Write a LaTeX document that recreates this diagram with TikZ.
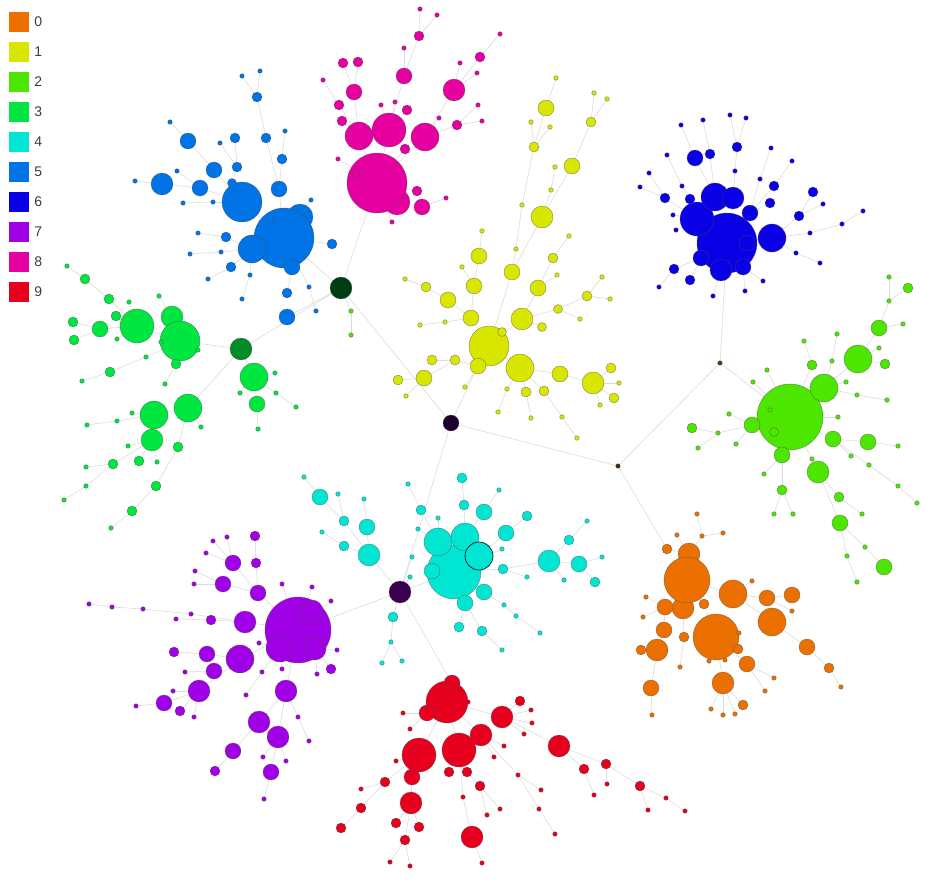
\documentclass[tikz,border=0pt]{standalone}
\usepackage{fontspec}
\setmainfont{Liberation Sans}
\usetikzlibrary{positioning, backgrounds}
\definecolor{c0}{RGB}{236,112,0}
\definecolor{c1}{RGB}{217,230,0}
\definecolor{c2}{RGB}{77,230,0}
\definecolor{c3}{RGB}{0,230,64}
\definecolor{c4}{RGB}{0,230,210}
\definecolor{c5}{RGB}{0,115,230}
\definecolor{c6}{RGB}{10,0,230}
\definecolor{c7}{RGB}{160,0,230}
\definecolor{c8}{RGB}{230,0,160}
\definecolor{c9}{RGB}{230,0,30}
\definecolor{labgray}{RGB}{60,60,60}

% name/x/y/radius/parent
\newcommand\orangenodes{o0/667/549/5/hD, o1/689/554/11/o0, o3/683/608/11/o2,
  o2/687/580/23/o1, o4/665/607/8/o2, o5/704/604/5/o2, o6/733/594/14/o2,
  o7/752/581/2.3/o6, o8/767/598/8/o6, o9/792/595/8/o8, o10/792/611/2.3/o8,
  o11/772/622/14/o6, o12/807/647/8/o11, o13/829/668/5/o12, o14/841/687/2.3/o13,
  o15/716/637/23/o5, o16/739/633/2.3/o15, o17/738/649/5/o15, o18/709/661/2.3/o15,
  o19/725/660/2.3/o15, o20/747/664/8/o15, o21/774/678/2.3/o20, o22/765/691/2.3/o20,
  o23/723/683/11/o15, o24/711/709/2.3/o23, o25/723/715/2.3/o23, o26/735/714/2.3/o23,
  o27/743/705/5/o23, o28/664/630/8/o4, o29/657/650/11/o28, o30/641/650/5/o29,
  o31/651/688/8/o29, o32/652/715/2.3/o31, o33/684/637/5/o3, o34/680/667/2.3/o33,
  o35/646/597/2.3/o4, o36/643/617/2.3/o4, o37/702/536/2.3/o1, o38/697/514/2.3/o37,
  o39/723/533/2.3/o37, o40/677/535/2.3/o1}
\newcommand\yellownodes{y0/489/346/20/y1, y1/478/366/8/hB, y2/502/332/4.5/y0,
  y3/520/368/14/y0, y4/522/319/11/y0, y5/542/327/4.5/y4, y6/558/309/4.5/y4,
  y7/587/296/5/y6, y8/602/277/2.3/y7, y9/610/299/2.3/y7, y10/580/319/2.3/y6,
  y11/538/288/8/y4, y12/557/275/2.3/y11, y13/553/258/5/y11, y14/569/236/2.3/y13,
  y15/471/318/8/y0, y16/474/286/8/y15, y17/462/267/2.3/y16, y18/479/256/8/y16,
  y19/482/231/2.3/y18, y20/448/300/8/y15, y21/426/287/5/y20, y22/405/279/2.3/y21,
  y23/445/322/2.3/y15, y24/420/325/2.3/y23, y25/512/272/8/y0, y26/516/249/2.3/y25,
  y27/542/217/11/y25, y28/522/205/2.3/y26, y29/551/190/2.3/y27, y30/555/167/2.3/y29,
  y31/572/166/8/y27, y32/591/122/5/y31, y33/594/93/2.3/y32, y34/607/99/2.3/y32,
  y35/534/147/5/y28, y36/531/122/2.3/y35, y37/550/127/2.3/y35, y38/546/108/8/y35,
  y39/556/78/2.3/y38, y40/455/360/5/y1, y41/432/360/5/y40, y42/424/378/8/y40,
  y43/398/380/5/y42, y44/406/396/2.3/y42, y45/465/387/2.3/y1, y46/507/389/2.3/y3,
  y47/498/412/2.3/y46, y48/526/392/5/y3, y49/531/418/2.3/y48, y50/544/391/5/y3,
  y51/562/417/2.3/y50, y52/577/438/2.3/y51, y53/560/374/8/y3, y54/593/383/11/y53,
  y55/611/368/5/y54, y56/619/383/2.3/y54, y57/614/398/5/y54, y58/600/405/2.3/y54}
\newcommand\limenodes{g0/790/417/33/hE, g1/824/388/14/g0, g2/858/359/14/g1,
  g3/879/328/8/g2, g4/889/301/2.3/g3, g5/889/277/2.3/g4, g6/908/288/5/g4,
  g7/903/324/2.3/g3, g8/879/348/2.3/g2, g9/885/364/5/g2, g10/812/365/5/g0,
  g11/804/341/2.3/g10, g12/832/361/2.3/g1, g13/837/334/2.3/g12, g14/846/382/2.3/g1,
  g15/857/395/2.3/g1, g16/887/400/2.3/g15, g17/767/370/2.3/g0, g18/753/382/2.3/g0,
  g19/838/417/2.3/g0, g20/770/410/2.3/g0, g21/774/432/4.5/g0, g22/752/425/8/g0,
  g23/729/414/2.3/g22, g24/736/444/2.3/g22, g25/718/433/2.3/g22, g26/692/428/5/g25,
  g27/698/448/2.3/g25, g28/782/455/8/g0, g29/764/474/2.3/g28, g30/782/490/5/g28,
  g31/774/514/2.3/g30, g32/793/514/2.3/g30, g33/833/439/8/g0, g34/868/442/8/g33,
  g35/898/446/2.3/g34, g36/851/456/2.3/g33, g37/869/465/2.3/g33, g38/898/486/2.3/g37,
  g39/917/503/2.3/g38, g40/812/459/2.3/g0, g41/818/472/11/g40, g42/839/497/5/g41,
  g43/862/514/2.3/g42, g44/840/523/8/g41, g45/865/547/2.3/g44, g46/884/567/8/g45,
  g47/847/556/2.3/g44, g48/857/582/2.3/g47, g49/351/311/2.3/hA, g50/351/335/2.3/g49}
\newcommand\greennodes{f1/172/317/11/f0, f0/180/341/20/hF, f2/137/326/17/f0,
  f3/100/329/8/f2, f4/73/322/5/f3, f5/74/340/5/f3, f6/116/316/5/f2, f7/109/299/5/f2,
  f8/85/279/5/f7, f9/67/266/2.3/f8, f10/129/302/2.3/f2, f11/117/339/2.3/f2,
  f12/159/296/2.3/f1, f13/161/342/2.3/f0, f14/198/350/2.3/f0, f15/176/364/5/f0,
  f16/165/384/2.3/f15, f17/146/357/2.3/f0, f18/110/372/5/f17, f19/82/381/2.3/f18,
  f20/254/377/14/hF, f21/257/404/8/f20, f22/258/429/2.3/f21, f23/275/373/2.3/f20,
  f24/276/393/2.3/f20, f25/296/407/2.3/f24, f26/240/393/2.3/f20, f27/188/408/14/hF,
  f28/154/415/14/f27, f29/152/440/11/f28, f30/132/413/2.3/f28, f31/117/421/2.3/f28,
  f32/87/425/2.3/f31, f33/201/427/2.3/f27, f34/178/447/5/f27, f35/156/486/5/f34,
  f36/132/511/5/f35, f37/111/528/2.3/f36, f38/128/446/2.3/f29, f39/139/461/5/f29,
  f40/157/462/2.3/f29, f41/113/464/5/f29, f42/86/467/2.3/f41, f43/86/486/2.3/f41,
  f44/64/500/2.3/f43}
\newcommand\cyannodes{c0/454/572/27/hC, c1/438/542/14/c0, c2/465/537/14/c0,
  c4/432/571/8/c0, c5/484/592/8/c0, c6/465/603/8/c0,
  c7/459/627/5/c6, c8/482/631/5/c6, c9/502/650/2.3/c8, c10/504/605/2.3/c5,
  c11/516/616/2.3/c10, c12/540/633/2.3/c11, c13/503/569/5/c0, c14/527/577/2.3/c13,
  c15/502/549/2.3/c0, c16/549/561/11/c13, c17/579/564/8/c16, c18/595/582/5/c17,
  c19/602/557/2.3/c17, c20/564/580/2.3/c16, c21/569/540/5/c16, c22/587/521/2.3/c21,
  c23/506/533/8/c3, c24/527/516/5/c23, c25/484/512/8/c2, c26/499/490/2.3/c25,
  c27/464/505/5/c2, c28/462/478/5/c27, c29/438/518/2.3/c1, c30/421/510/5/c1,
  c31/408/484/2.3/c30, c32/418/529/2.3/c1, c33/412/557/2.3/hC, c34/410/577/2.3/hC,
  c35/393/617/5/hC, c36/391/642/2.3/c35, c37/382/663/2.3/c36, c38/402/661/2.3/c36,
  c39/369/555/11/hC, c40/344/546/5/c39, c41/322/532/2.3/c40, c42/367/527/8/c39,
  c43/364/499/2.3/c42, c44/344/521/5/c39, c45/338/494/2.3/c44, c46/320/497/8/c44,
  c47/304/477/2.3/c46}
\newcommand\bluenodes{b1/300/217/13/b0, b0/284/238/30/hA, b2/242/202/20/b0,
  b3/252/249/14/b0, b4/292/267/8/b0, b5/274/221/2.3/b0, b6/232/183/4.5/b2,
  b7/237/167/5/b6, b8/235/138/5/b7, b9/220/143/2.3/b7, b10/214/170/8/b2,
  b11/188/141/8/b10, b12/170/122/2.3/b11, b13/200/188/8/b2, b14/162/184/11/b13,
  b15/135/181/2.3/b14, b16/177/171/2.3/b13, b17/213/202/2.3/b2, b18/183/203/2.3/b17,
  b19/279/189/8/b0, b20/282/159/5/b19, b21/285/131/2.3/b20, b22/266/138/5/b19,
  b23/257/97/5/b22, b24/242/76/2.3/b23, b25/260/71/2.3/b23, b26/311/200/2.3/b0,
  b27/332/244/5/b0, b28/226/237/5/b3, b29/198/233/2.3/b28, b30/221/252/2.3/b3,
  b31/190/254/2.3/b30, b32/231/267/5/b3, b33/208/279/2.3/b32, b34/250/275/2.3/b3,
  b35/242/299/2.3/b34, b36/287/293/5/b4, b37/287/317/8/hA, b38/309/287/2.3/b0,
  b39/316/311/2.3/b38}
\newcommand\navynodes{d0/727/243/30/hE, d1/697/219/17/d0, d2/715/197/14/d0,
  d3/733/198/11/d0, d4/772/238/14/d0, d5/750/213/8/d0, d6/747/243/8/d0,
  d7/701/258/8/d0, d8/721/270/11/d0, d9/743/267/8/d0, d10/695/158/8/d2,
  d11/681/125/2.3/d10, d12/710/154/5/d2, d13/703/120/2.3/d12, d14/735/171/2.3/d3,
  d15/737/147/5/d14, d16/730/115/2.3/d15, d17/746/118/2.3/d15, d18/665/198/5/d1,
  d19/649/173/2.3/d18, d20/640/187/2.3/d18, d21/690/199/5/d1, d22/682/186/2.3/d21,
  d23/667/155/2.3/d22, d24/673/215/2.3/d1, d25/676/230/2.3/d1, d26/760/179/2.3/d5,
  d27/771/148/2.3/d26, d28/774/186/5/d5, d29/792/161/2.3/d28, d30/770/203/5/d5,
  d31/799/216/5/d4, d32/813/192/5/d31, d33/823/204/2.3/d31, d34/810/233/2.3/d4,
  d35/842/224/2.3/d34, d36/863/211/2.3/d35, d37/796/253/2.3/d4, d38/820/263/2.3/d37,
  d39/674/269/5/d7, d40/659/287/2.3/d39, d41/690/280/5/d7, d42/713/296/2.3/d8,
  d43/745/291/2.3/d9, d44/763/281/2.3/d9}
\newcommand\purplenodes{p0/298/630/33/hC, p1/312/611/11/p0, p2/280/648/14/p0,
  p3/315/649/11/p0, p4/282/584/2.3/p0, p5/312/587/2.3/p0, p6/331/601/2.3/p0,
  p7/337/650/2.3/p3, p8/331/669/5/p3, p9/317/674/2.3/p3, p10/282/669/2.3/p2,
  p11/262/672/2.3/p2, p12/246/695/2.3/p11, p13/259/643/2.3/p2, p14/286/691/11/p0,
  p15/298/717/2.3/p14, p16/309/741/2.3/p15, p17/259/722/11/p14, p18/233/751/8/p17,
  p19/215/771/5/p18, p20/278/737/11/p14, p21/271/772/8/p20, p22/264/799/2.3/p21,
  p23/263/757/2.3/p20, p24/286/761/2.3/p20, p25/240/659/14/p0, p26/214/671/8/p25,
  p27/185/672/2.3/p26, p28/207/654/8/p25, p29/174/652/5/p28, p30/199/691/11/p25,
  p31/173/691/2.3/p30, p32/164/703/8/p30, p33/136/706/2.3/p32, p34/180/711/5/p30,
  p35/194/717/2.3/p30, p36/245/622/11/p0, p37/211/620/5/p36, p38/176/619/2.3/p37,
  p39/191/614/2.3/p36, p40/143/609/2.3/p39, p41/112/607/2.3/p40, p42/89/604/2.3/p41,
  p43/258/593/8/p0, p44/223/584/8/p43, p45/194/584/2.3/p44, p46/195/571/2.3/p44,
  p47/233/563/8/p43, p48/206/553/2.3/p47, p49/213/541/2.3/p47, p50/227/537/2.3/p47,
  p51/256/563/5/p43, p52/255/536/5/p51}
\newcommand\magentanodes{m1/397/202/13/m0, m0/377/183/30/hA, m2/422/207/8/m1,
  m3/446/198/2.3/m2, m4/417/191/5/m0, m5/392/222/2.3/m0, m6/338/159/2.3/m0,
  m7/356/174/4/m0, m8/359/136/14/m0, m9/389/130/17/m0, m10/425/137/14/m0,
  m11/405/149/5/m0, m12/354/92/8/m8, m13/343/63/5/m12, m14/358/62/5/m12,
  m15/339/105/5/m8, m16/323/80/2.3/m15, m17/342/121/5/m8, m18/404/76/8/m9,
  m19/404/48/2.3/m18, m20/419/36/5/m18, m21/420/9/2.3/m20, m22/437/15/2.3/m20,
  m23/381/105/2.3/m9, m24/395/102/2.3/m9, m25/407/110/5/m9, m26/454/90/11/m10,
  m27/460/63/2.3/m26, m28/477/73/2.3/m26, m29/480/57/5/m26, m30/500/34/2.3/m29,
  m31/439/118/2.3/m10, m32/457/125/5/m10, m33/478/105/2.3/m32, m34/482/121/2.3/m32}
\newcommand\rednodes{r0/447/702/21/r1, r1/452/683/8/hC, r2/427/713/8/r0,
  r3/468/702/2.3/r0, r4/403/713/2.3/r2, r5/410/729/2.3/r2, r6/419/755/17/r0,
  r7/459/750/17/r0, r8/481/735/11/r0, r9/502/717/11/r0, r10/520/701/5/r9,
  r11/531/710/2.3/r9, r12/532/723/2.3/r9, r13/524/734/2.3/r9, r14/559/746/11/r9,
  r15/584/769/5/r14, r16/594/795/2.3/r15, r17/606/764/5/r14, r18/607/784/2.3/r17,
  r19/640/786/5/r17, r20/648/810/2.3/r19, r21/666/798/2.3/r19, r22/685/811/2.3/r21,
  r23/504/746/2.3/r8, r24/494/757/2.3/r8, r25/518/775/2.3/r8, r26/541/790/2.3/r25,
  r27/539/809/2.3/r25, r28/555/834/2.3/r27, r29/449/772/5/r7, r30/467/772/5/r7,
  r31/480/786/5/r30, r32/487/815/2.3/r31, r33/500/809/2.3/r31, r34/463/797/2.3/r7,
  r35/472/837/11/r34, r36/482/863/2.3/r35, r37/412/777/8/r6, r38/411/803/11/r37,
  r39/396/823/5/r38, r40/419/827/5/r38, r41/405/840/5/r38, r42/390/862/2.3/r41,
  r43/410/866/2.3/r41, r44/396/761/2.3/r6, r45/385/782/5/r6, r46/361/789/2.3/r45,
  r47/361/808/5/r45, r48/341/828/5/r47}

\newcommand\placenodes[2]{\foreach \nm/\x/\y/\r/\pa in #1
  {\node[dot=\r, fill=#2] (\nm) at (\x,\y) {};}}
\newcommand\linknodes[1]{\foreach \nm/\x/\y/\r/\pa in #1
  {\draw[edge] (\nm) -- (\pa);}}

\begin{document}
\begin{tikzpicture}[x=1pt, y=-1pt,
  dot/.style={circle, inner sep=0pt, outer sep=0pt, minimum size=#1*2pt,
    draw=black!70, draw opacity=0.6, line width=0.45pt},
  edge/.style={draw=black!14, line width=0.6pt},
  legbox/.style={minimum size=20pt, inner sep=0pt},
  leglabel/.style={font=\fontsize{14}{16}\selectfont, text=labgray, inner sep=2pt}
]
  \useasboundingbox (0,0) rectangle (930,889);

  % legend
  \foreach \i in {0,...,9}{
    \node[legbox, fill=c\i] (leg\i) at (19,{22+30*\i}) {};
    \node[leglabel, right=3pt of leg\i] (lab\i) {\i};
  }

  % bridge nodes between the groups
  \node[dot=11, fill={rgb,255:red,0;green,61;blue,20}] (hA) at (341,288) {};
  \node[dot=8, fill={rgb,255:red,28;green,0;blue,48}] (hB) at (451,423) {};
  \node[dot=11, fill={rgb,255:red,56;green,0;blue,80}] (hC) at (400,592) {};
  \node[dot=2.3, fill={rgb,255:red,70;green,40;blue,10}] (hD) at (618,466) {};
  \node[dot=2.3, fill={rgb,255:red,30;green,90;blue,0}] (hE) at (720,363) {};
  \node[dot=11, fill={rgb,255:red,0;green,140;blue,38}] (hF) at (241,349) {};

  \placenodes{\orangenodes}{c0}
  \placenodes{\yellownodes}{c1}
  \placenodes{\limenodes}{c2}
  \placenodes{\greennodes}{c3}
  \placenodes{\cyannodes}{c4}
  \node[dot=14, fill=c4, draw=black, draw opacity=0.9, line width=0.7pt] (c3) at (479,556) {};
  \placenodes{\bluenodes}{c5}
  \placenodes{\navynodes}{c6}
  \placenodes{\purplenodes}{c7}
  \placenodes{\magentanodes}{c8}
  \placenodes{\rednodes}{c9}

  \begin{scope}[on background layer]
    \draw[edge] (hA) -- (hB);
    \draw[edge] (hA) -- (hF);
    \draw[edge] (hB) -- (hC);
    \draw[edge] (hB) -- (hD);
    \draw[edge] (hD) -- (hE);
    \draw[edge] (c3) -- (c0);
    \linknodes{\orangenodes}
    \linknodes{\yellownodes}
    \linknodes{\limenodes}
    \linknodes{\greennodes}
    \linknodes{\cyannodes}
    \linknodes{\bluenodes}
    \linknodes{\navynodes}
    \linknodes{\purplenodes}
    \linknodes{\magentanodes}
    \linknodes{\rednodes}
  \end{scope}
\end{tikzpicture}
\end{document}
